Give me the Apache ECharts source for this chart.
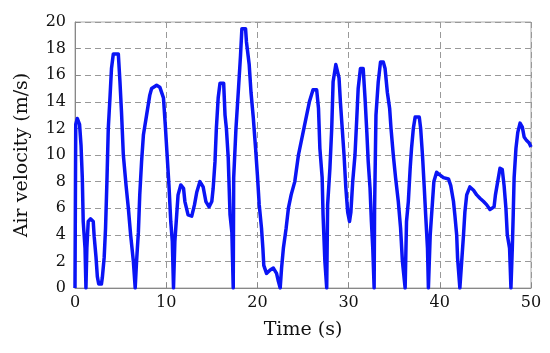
<!DOCTYPE html>
<html>
<head>
<meta charset="utf-8">
<script src="https://cdn.jsdelivr.net/npm/echarts@6/dist/echarts.min.js"></script>
<style>
html,body{margin:0;padding:0;background:#fff;}
#chart{width:550px;height:353px;}
</style>
</head>
<body>
<div id="chart"></div>
<script>
// Time (s)
var timeS = [
  0, 0.08, 0.25, 0.5, 0.66, 0.8, 0.9, 1.1, 1.2, 1.3, 1.45, 1.7, 2.0, 2.1, 2.3, 2.45, 2.6, 2.9, 3.0, 3.2,
  3.35, 3.5, 3.65, 3.85, 4.0, 4.2, 4.75, 4.93, 5.1, 5.3, 5.6, 5.85, 6.1, 6.4, 6.6, 6.75,
  6.95, 7.1, 7.3, 7.5, 7.85, 8.2, 8.4, 8.95, 9.3, 9.7, 9.9, 10.1, 10.3, 10.5, 10.67, 10.8,
  10.95, 11.15, 11.3, 11.6, 11.9, 12.05, 12.4, 12.8, 13.1, 13.35, 13.7, 14.05, 14.35, 14.7,
  15.0, 15.15, 15.35, 15.5, 15.7, 15.9, 16.3, 16.45, 16.6, 16.8, 17.0, 17.2, 17.35, 17.4,
  17.65, 17.9, 18.15, 18.3, 18.7, 18.8, 19.1, 19.3, 19.55, 19.8, 20.0, 20.2, 20.45, 20.6,
  20.7, 21.0, 21.4, 21.75, 22.1, 22.3, 22.5, 22.65, 22.85, 23.15, 23.4, 23.7, 24.1, 24.5,
  25.1, 25.7, 26.1, 26.5, 26.7, 26.85, 27.1, 27.2, 27.4, 27.6, 27.7, 27.95, 28.15, 28.3,
  28.6, 28.8, 28.95, 29.1, 29.3, 29.5, 29.7, 29.9, 30.1, 30.25, 30.45, 30.7, 30.9, 31.05,
  31.3, 31.6, 31.8, 32.0, 32.15, 32.35, 32.5, 32.65, 32.8, 32.85, 33.0, 33.25, 33.5, 33.8,
  34.0, 34.25, 34.5, 34.65, 34.9, 35.15, 35.45, 35.7, 35.9, 36.2, 36.35, 36.55, 36.75,
  36.9, 37.1, 37.3, 37.75, 37.9, 38.1, 38.3, 38.45, 38.65, 38.75, 38.95, 39.05, 39.2,
  39.35, 39.65, 40.0, 40.4, 40.95, 41.2, 41.5, 41.65, 41.85, 41.95, 42.2, 42.4, 42.6,
  42.75, 42.95, 43.3, 43.7, 44.05, 44.4, 44.8, 45.15, 45.5, 45.7, 45.95, 46.1, 46.35,
  46.6, 46.85, 47.05, 47.25, 47.4, 47.65, 47.8, 47.95, 48.05, 48.15, 48.35, 48.55, 48.8,
  49.05, 49.25, 49.5, 49.8, 50
];
// Air velocity (m/s)
var airVelocity = [
  0, 12.3, 12.75, 12.3, 10.75, 8.3, 5.0, 3.0, 0, 3.0, 5.0, 5.2, 5.0, 3.9, 2.35, 0.85, 0.3, 0.3, 0.8, 2.3,
  4.5, 8.0, 12.0, 14.5, 16.5, 17.6, 17.6, 15.5, 13.2, 10.0, 7.7, 6.0, 4.0, 2.0, 0, 2.0,
  4.2, 7.0, 9.5, 11.5, 13.0, 14.5, 15.0, 15.25, 15.1, 14.3, 12.25, 10.0, 7.75, 5.0, 3.5, 0,
  3.5, 5.5, 7.0, 7.75, 7.5, 6.5, 5.5, 5.4, 6.25, 7.2, 8.0, 7.6, 6.5, 6.1,
  6.5, 7.5, 9.5, 12.0, 14.3, 15.4, 15.4, 13.0, 12.0, 9.8, 5.5, 4.2, 0, 8.3,
  12.0, 14.7, 17.5, 19.5, 19.5, 18.5, 16.8, 14.7, 12.8, 10.5, 8.5, 6.25, 4.5, 3.0,
  1.7, 1.1, 1.35, 1.5, 1.1, 0.5, 0, 1.5, 3.0, 4.5, 6.0, 7.0, 8.0, 10.0,
  12.0, 14.0, 14.9, 14.9, 13.5, 10.5, 8.3, 5.5, 2.0, 0, 6.25, 9.0, 12.0, 15.5,
  16.8, 16.8, 15.8, 14.0, 12.0, 10.0, 7.5, 5.7, 5.0, 5.7, 8.0, 10.0, 12.8, 15.0,
  16.5, 16.5, 14.3, 11.7, 9.5, 7.5, 5.0, 3.0, 0, 6.0, 13.0, 15.5, 17.0, 17.0,
  16.5, 14.7, 13.5, 12.0, 10.0, 8.3, 6.5, 4.5, 2.0, 0, 5.0, 6.5, 9.0,
  10.5, 12.0, 12.85, 12.85, 12.0, 10.0, 7.5, 5.5, 3.0, 0, 4.0, 5.0, 6.5,
  8.0, 8.7, 8.5, 8.3, 8.2, 7.7, 6.5, 5.5, 4.0, 2.25, 0, 2.0, 4.0,
  5.7, 7.0, 7.6, 7.35, 7.0, 6.75, 6.5, 6.25, 5.9, 5.75, 6.1, 7.0, 8.0,
  9.0, 8.9, 7.7, 6.0, 4.0, 3.0, 0, 3.0, 5.5, 8.3, 10.5, 11.7, 12.4,
  12.1, 11.35, 11.1, 10.9, 10.6
];
var xTicks = [0, 10, 20, 30, 40, 50];
var yTicks = [0, 2, 4, 6, 8, 10, 12, 14, 16, 18, 20];

var pts = timeS.map(function (t, i) { return [t, airVelocity[i]]; });
var chart = echarts.init(document.getElementById('chart'), null, {renderer: 'canvas'});
var font = 'DejaVu Serif';
chart.setOption({
  animation: false,
  grid: {left: 75, right: 19, top: 22, bottom: 65, containLabel: false},
  xAxis: {
    type: 'value', min: xTicks[0], max: xTicks[xTicks.length - 1], interval: 10,
    name: 'Time (s)', nameLocation: 'middle', nameGap: 33,
    nameTextStyle: {fontFamily: font, fontSize: 19, color: '#111'},
    axisLine: {show: true, onZero: false, lineStyle: {color: '#888', width: 1}},
    axisTick: {show: true, inside: true, length: 5, lineStyle: {color: '#888'}},
    axisLabel: {fontFamily: font, fontSize: 16, color: '#111', margin: 7},
    splitLine: {show: true, lineStyle: {color: '#999', type: [6, 4], width: 1}}
  },
  yAxis: {
    type: 'value', min: yTicks[0], max: yTicks[yTicks.length - 1], interval: 2,
    name: 'Air velocity (m/s)', nameLocation: 'middle', nameGap: 43,
    nameTextStyle: {fontFamily: font, fontSize: 19, color: '#111'},
    axisLine: {show: true, onZero: false, lineStyle: {color: '#888', width: 1}},
    axisTick: {show: true, inside: true, length: 5, lineStyle: {color: '#888'}},
    axisLabel: {fontFamily: font, fontSize: 16, color: '#111', margin: 9},
    splitLine: {show: true, lineStyle: {color: '#999', type: [6, 4], width: 1}}
  },
  graphic: [{
    type: 'rect', shape: {x: 75, y: 22, width: 456, height: 266},
    style: {fill: 'none', stroke: '#aaa', lineWidth: 1}, silent: true, z: 0
  }],
  series: [{
    type: 'line', data: pts, showSymbol: false, smooth: false,
    lineStyle: {color: '#0a14f5', width: 3.5, join: 'round'},
    clip: true, z: 5
  }]
});
</script>
</body>
</html>
